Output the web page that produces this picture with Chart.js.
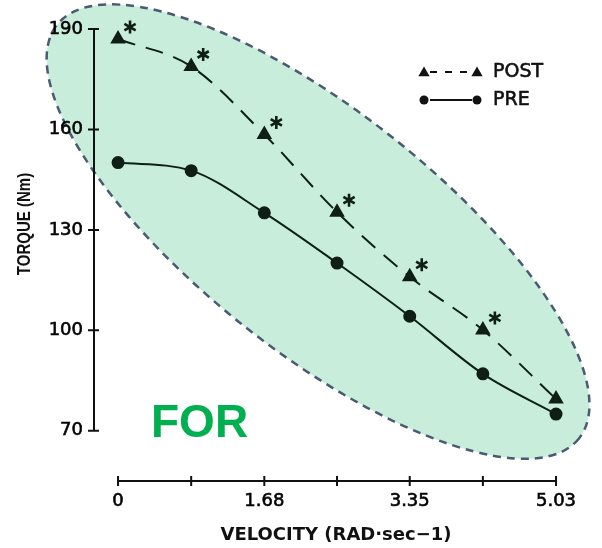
<!DOCTYPE html>
<html>
<head>
<meta charset="utf-8">
<script src="https://cdn.jsdelivr.net/npm/chart.js@4.4.1/dist/chart.umd.min.js"></script>
<style>
  html, body { margin: 0; padding: 0; background: #fff; }
  canvas { display: block; }
</style>
</head>
<body>
<canvas id="chart" width="602" height="548"></canvas>
<script>
// velocity (rad/s) at each test speed
const velocity = [0, 0.84, 1.68, 2.515, 3.35, 4.19, 5.03];
const velocityLabels = ['0', '', '1.68', '', '3.35', '', '5.03'];
const torqueTicks = [70, 100, 130, 160, 190];

const postTorque = [187, 178.8, 158.5, 135.3, 116, 100.1, 79.5];
const preTorque = [150.1, 147.7, 135.1, 120.1, 104.2, 87, 75];
// * = significant difference pre vs post
const significant = [true, true, true, true, true, true, false];

const ink = '#0f1f16';
const tickFont = { family: 'DejaVu Sans', size: 18 };

function points(ys) {
  return velocity.map((v, i) => ({ x: v, y: ys[i] }));
}

function drawStar(ctx, cx, cy, r) {
  ctx.beginPath();
  [90, 30, -30].forEach(deg => {
    const a = deg * Math.PI / 180;
    ctx.moveTo(cx - Math.cos(a) * r, cy - Math.sin(a) * r);
    ctx.lineTo(cx + Math.cos(a) * r, cy + Math.sin(a) * r);
  });
  ctx.stroke();
}

function drawTriangle(ctx, cx, cy, r) {
  ctx.beginPath();
  for (let k = 0; k < 3; k++) {
    const a = k * 2 * Math.PI / 3;
    ctx.lineTo(cx + Math.sin(a) * r, cy - Math.cos(a) * r);
  }
  ctx.closePath();
  ctx.fill();
}

// green ellipse + "FOR" label behind everything
const backdrop = {
  id: 'backdrop',
  beforeDraw(chart) {
    const { ctx, scales: { x, y } } = chart;
    ctx.save();
    ctx.beginPath();
    ctx.ellipse(x.getPixelForValue(2.297), y.getPixelForValue(129.5), 333, 120, 38.4 * Math.PI / 180, 0, Math.PI * 2);
    ctx.fillStyle = '#c8eddb';
    ctx.fill();
    ctx.setLineDash([8, 6]);
    ctx.lineWidth = 2.5;
    ctx.strokeStyle = '#4a5a72';
    ctx.stroke();
    ctx.restore();

    ctx.save();
    ctx.font = 'bold 46px "Liberation Sans", Arial, sans-serif';
    ctx.fillStyle = '#00b050';
    ctx.textBaseline = 'alphabetic';
    ctx.fillText('FOR', 151, 437);
    ctx.restore();
  }
};

// detached axes with crossing ticks, plus axis titles
const axes = {
  id: 'axes',
  beforeDatasetsDraw(chart) {
    const { ctx, chartArea, scales: { x, y } } = chart;
    ctx.save();
    ctx.strokeStyle = '#111';
    ctx.lineWidth = 2;
    const ax = chartArea.left;
    ctx.beginPath();
    ctx.moveTo(ax, y.getPixelForValue(torqueTicks[0]));
    ctx.lineTo(ax, y.getPixelForValue(torqueTicks[torqueTicks.length - 1]));
    torqueTicks.forEach(t => {
      const py = y.getPixelForValue(t);
      ctx.moveTo(ax - 6, py);
      ctx.lineTo(ax + 5, py);
    });
    const ay = chartArea.bottom;
    ctx.moveTo(x.getPixelForValue(velocity[0]), ay);
    ctx.lineTo(x.getPixelForValue(velocity[velocity.length - 1]), ay);
    velocity.forEach(v => {
      const px = x.getPixelForValue(v);
      ctx.moveTo(px, ay - 5);
      ctx.lineTo(px, ay + 5);
    });
    ctx.stroke();

    ctx.fillStyle = '#111';
    ctx.textAlign = 'center';
    ctx.textBaseline = 'middle';
    ctx.font = 'bold 18px "DejaVu Sans", sans-serif';
    ctx.fillText('VELOCITY (RAD\u00B7sec\u22121)', 336, 535);
    ctx.translate(25, 224);
    ctx.rotate(-Math.PI / 2);
    ctx.scale(0.79, 1);   // condensed lettering like the original
    ctx.font = 'bold 19px "Liberation Sans", Arial, sans-serif';
    ctx.fillText('TORQUE (Nm)', 0, 0);
    ctx.restore();
  },
  afterDatasetsDraw(chart) {
    const { ctx } = chart;
    const meta = chart.getDatasetMeta(0);
    ctx.save();
    ctx.strokeStyle = ink;
    ctx.lineWidth = 2.6;
    meta.data.forEach((pt, i) => {
      if (significant[i]) drawStar(ctx, pt.x + 12, pt.y - 12, 6.5);
    });
    ctx.restore();
  }
};

// hand-drawn style legend: marker - line - marker
const keyLegend = {
  id: 'keyLegend',
  afterDraw(chart) {
    const { ctx } = chart;
    const rows = [
      { label: chart.data.datasets[0].label, y: 72, dash: [7, 8], tri: true },
      { label: chart.data.datasets[1].label, y: 100, dash: [], tri: false }
    ];
    ctx.save();
    rows.forEach(r => {
      ctx.strokeStyle = '#111';
      ctx.fillStyle = '#111';
      ctx.lineWidth = 1.8;
      ctx.setLineDash(r.dash);
      ctx.beginPath();
      ctx.moveTo(430, r.y);
      ctx.lineTo(472, r.y);
      ctx.stroke();
      ctx.setLineDash([]);
      [424, 477].forEach(px => {
        if (r.tri) drawTriangle(ctx, px, r.y + 1, 6.5);
        else { ctx.beginPath(); ctx.arc(px, r.y, 4.5, 0, Math.PI * 2); ctx.fill(); }
      });
      ctx.font = '19px "DejaVu Sans", sans-serif';
      ctx.textBaseline = 'middle';
      ctx.textAlign = 'left';
      ctx.lineWidth = 0.6;
      ctx.fillText(r.label, 493, r.y);
      ctx.strokeText(r.label, 493, r.y);
    });
    ctx.restore();
  }
};

new Chart(document.getElementById('chart'), {
  type: 'line',
  data: {
    datasets: [
      {
        label: 'POST',
        data: points(postTorque),
        borderColor: ink,
        backgroundColor: ink,
        borderWidth: 2,
        borderDash: [18, 11],
        pointStyle: 'triangle',
        pointRadius: 7,
        cubicInterpolationMode: 'monotone',
        clip: false
      },
      {
        label: 'PRE',
        data: points(preTorque),
        borderColor: ink,
        backgroundColor: ink,
        borderWidth: 2,
        pointStyle: 'circle',
        pointRadius: 5.5,
        cubicInterpolationMode: 'monotone',
        clip: false
      }
    ]
  },
  options: {
    responsive: false,
    animation: false,
    layout: { padding: { top: 29, right: 27, left: 0, bottom: 0 } },
    plugins: {
      legend: { display: false },
      tooltip: { enabled: false }
    },
    scales: {
      x: {
        type: 'linear',
        min: -0.276,
        max: 5.248,
        grid: { display: false },
        border: { display: false },
        afterBuildTicks: s => { s.ticks = velocity.map(v => ({ value: v })); },
        afterFit: s => { s.height = 67; },
        ticks: {
          autoSkip: false,
          maxRotation: 0,
          padding: 2,
          color: '#000',
          textStrokeColor: '#000',
          textStrokeWidth: 0.6,
          font: tickFont,
          callback: (v, i) => velocityLabels[i]
        }
      },
      y: {
        min: 55,
        max: 190,
        grid: { display: false },
        border: { display: false },
        afterBuildTicks: s => { s.ticks = torqueTicks.map(v => ({ value: v })); },
        afterFit: s => { s.width = 94; },
        ticks: {
          padding: 3,
          color: '#000',
          textStrokeColor: '#000',
          textStrokeWidth: 0.6,
          font: tickFont
        }
      }
    }
  },
  plugins: [backdrop, axes, keyLegend]
});
</script>
</body>
</html>
